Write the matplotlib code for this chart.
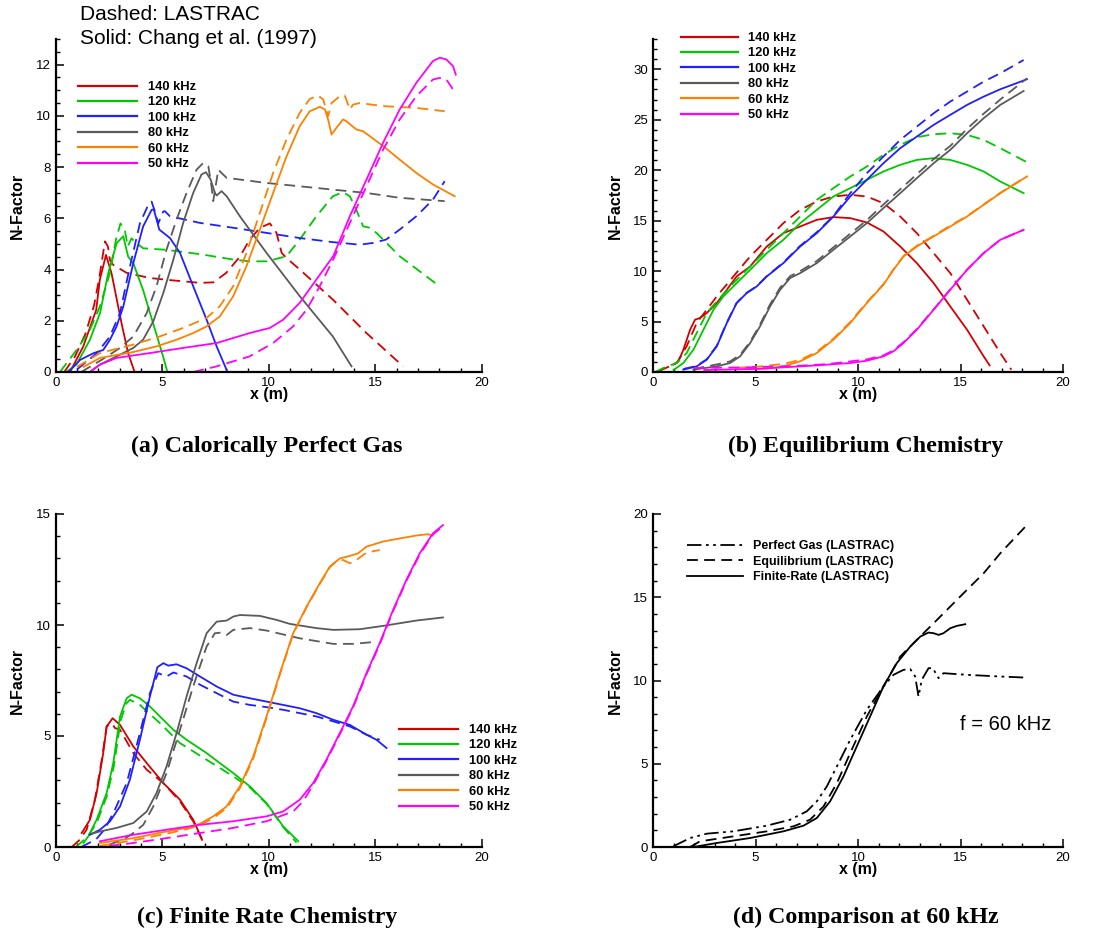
import matplotlib
matplotlib.use("Agg")
import matplotlib.pyplot as plt
from matplotlib.lines import Line2D
from matplotlib.ticker import MultipleLocator

plt.rcParams["font.family"] = ["Liberation Sans", "DejaVu Sans"]

# ---------------------------------------------------------------------------
# N-factor curves, (x [m], N) pairs.
# "lastrac" = LASTRAC (dashed), "chang" = Chang et al. 1997 (solid)
# ---------------------------------------------------------------------------
frequencies = ["140 kHz", "120 kHz", "100 kHz", "80 kHz", "60 kHz", "50 kHz"]
colors = ["#d40000", "#00c800", "#2020ff", "#5a5a5a", "#ff8000", "#ff00ff"]

# (a) Calorically perfect gas
pg_140_chang = [(0.67, 0.0), (1.29, 0.99), (1.9, 2.42), (2.07, 3.6), (2.36, 4.57),
                (2.62, 3.85), (3.09, 1.9), (3.4, 0.73), (3.7, 0.0)]
pg_140_lastrac = [(0.4, 0.0), (0.9, 0.6), (1.4, 1.5), (1.8, 2.6), (2.05, 3.7), (2.31, 5.1),
                  (2.45, 4.9), (2.55, 4.35), (2.7, 4.18), (3.33, 3.87), (4.42, 3.67),
                  (5.2, 3.6), (6.77, 3.48), (7.4, 3.5), (8.0, 3.87), (8.64, 4.5),
                  (9.1, 5.17), (9.58, 5.63), (10.05, 5.8), (10.36, 5.43), (10.6, 4.65),
                  (10.83, 4.45), (11.45, 4.0), (13.0, 2.83), (14.58, 1.52), (16.3, 0.22)]
pg_120_chang = [(0.5, 0.0), (0.98, 0.3), (1.6, 1.25), (2.08, 2.3), (2.46, 3.85),
                (2.86, 5.03), (3.17, 5.3), (3.4, 4.5), (3.64, 4.25), (4.1, 3.2),
                (4.57, 1.9), (5.04, 0.6), (5.24, 0.0)]
pg_120_lastrac = [(0.2, 0.0), (0.98, 0.86), (1.6, 1.64), (2.07, 2.55), (2.54, 3.85),
                  (2.84, 5.22), (3.04, 5.8), (3.24, 5.55), (3.38, 4.9), (3.56, 5.22),
                  (3.7, 5.09), (4.1, 4.83), (5.2, 4.77), (6.77, 4.6), (8.33, 4.39),
                  (9.1, 4.32), (9.9, 4.32), (10.83, 4.52), (11.45, 5.17), (12.23, 6.08),
                  (13.0, 6.86), (13.48, 7.02), (13.8, 6.86), (14.1, 6.34), (14.42, 5.69),
                  (14.73, 5.63), (15.05, 5.43), (16.14, 4.52), (18.0, 3.35)]
pg_100_chang = [(0.6, 0.0), (1.14, 0.47), (1.76, 0.73), (2.23, 0.86), (2.54, 1.25),
                (2.85, 1.77), (3.17, 2.55), (3.64, 4.25), (4.1, 5.68), (4.5, 6.33),
                (4.6, 6.35), (4.75, 5.9), (4.86, 5.56), (5.36, 5.23), (5.83, 4.65),
                (6.45, 3.35), (7.08, 2.04), (7.55, 1.0), (8.06, 0.0)]
pg_100_lastrac = [(1.0, 0.1), (1.92, 0.73), (2.54, 1.38), (3.01, 2.29), (3.48, 4.11),
                  (3.95, 5.8), (4.34, 6.52), (4.5, 6.65), (4.68, 6.2), (4.81, 5.8),
                  (5.04, 6.26), (5.12, 6.28), (5.36, 6.08), (6.77, 5.82), (8.33, 5.63),
                  (9.9, 5.43), (11.45, 5.23), (13.0, 5.07), (14.27, 4.97), (14.9, 5.04),
                  (15.5, 5.17), (16.14, 5.56), (16.92, 6.08), (17.7, 6.73), (18.25, 7.45)]
pg_80_chang = [(1.6, 0.0), (2.08, 0.29), (2.86, 0.61), (3.64, 0.94), (4.1, 1.26),
               (4.58, 1.98), (5.05, 3.09), (5.52, 4.39), (5.98, 5.82), (6.45, 6.99),
               (6.84, 7.71), (7.05, 7.8), (7.27, 7.51), (7.47, 6.99), (7.55, 6.89),
               (7.78, 7.06), (8.02, 6.86), (8.64, 6.08), (9.89, 4.65), (11.45, 2.96),
               (13.0, 1.39), (13.88, 0.22)]
pg_80_lastrac = [(1.2, 0.0), (2.2, 0.5), (3.02, 0.94), (3.64, 1.39), (4.27, 2.3),
                 (4.73, 3.35), (5.2, 4.78), (5.67, 5.95), (6.14, 6.99), (6.61, 7.9),
                 (6.92, 8.16), (7.16, 8.03), (7.31, 7.25), (7.39, 6.67), (7.63, 7.9),
                 (7.78, 7.77), (8.02, 7.58), (9.89, 7.38), (13.0, 7.12), (14.58, 6.99),
                 (16.14, 6.8), (18.25, 6.67)]
pg_60_chang = [(1.3, 0.2), (2.08, 0.55), (3.64, 0.78), (4.73, 1.0), (5.67, 1.26),
               (6.45, 1.52), (7.08, 1.78), (7.7, 2.17), (8.33, 2.96), (8.95, 4.13),
               (9.58, 5.56), (10.2, 6.99), (10.83, 8.42), (11.45, 9.6), (11.92, 10.18),
               (12.39, 10.35), (12.63, 10.25), (12.78, 9.86), (12.94, 9.27), (13.17, 9.53),
               (13.48, 9.86), (13.64, 9.79), (14.1, 9.47), (14.42, 9.4), (15.36, 8.82),
               (16.14, 8.29), (16.92, 7.77), (17.7, 7.32), (18.72, 6.86)]
pg_60_lastrac = [(1.0, 0.2), (2.08, 0.74), (3.64, 1.07), (4.89, 1.39), (5.98, 1.72),
                 (7.08, 2.11), (7.7, 2.57), (8.33, 3.35), (8.95, 4.65), (9.58, 6.21),
                 (10.2, 7.77), (10.83, 9.08), (11.45, 10.12), (11.92, 10.66), (12.31, 10.79),
                 (12.55, 10.64), (12.78, 9.99), (12.94, 10.5), (13.33, 10.77), (13.56, 10.8),
                 (13.8, 10.25), (13.95, 10.44), (14.27, 10.5), (15.36, 10.38),
                 (16.92, 10.31), (18.25, 10.18)]
pg_50_chang = [(1.6, 0.0), (2.08, 0.29), (2.86, 0.55), (4.42, 0.74), (5.98, 0.94),
               (7.55, 1.13), (9.1, 1.52), (10.05, 1.72), (10.67, 2.04), (11.45, 2.7),
               (12.23, 3.61), (13.02, 4.52), (13.8, 6.08), (14.58, 7.51), (15.36, 8.95),
               (16.14, 10.25), (16.92, 11.29), (17.7, 12.14), (18.02, 12.27),
               (18.33, 12.2), (18.64, 11.94), (18.77, 11.61)]
pg_50_lastrac = [(6.45, 0.0), (7.55, 0.22), (9.1, 0.61), (10.2, 1.13), (11.14, 1.78),
                 (11.77, 2.43), (12.39, 3.35), (13.02, 4.39), (13.8, 5.82), (14.58, 7.25),
                 (15.36, 8.68), (16.14, 9.86), (16.92, 10.77), (17.7, 11.42),
                 (18.02, 11.48), (18.33, 11.42), (18.64, 11.03)]

# (b) Equilibrium chemistry
eq_140_chang = [(0.99, 0.73), (1.24, 1.06), (1.48, 2.2), (1.81, 4.19), (2.05, 5.18),
                (2.29, 5.35), (2.62, 5.84), (3.11, 6.83), (3.6, 8.15), (4.08, 9.47),
                (4.74, 10.46), (5.55, 12.44), (6.36, 13.76), (7.18, 14.42), (7.99, 15.08),
                (8.8, 15.35), (9.62, 15.25), (10.43, 14.82), (11.24, 13.93), (12.06, 12.44),
                (12.87, 10.79), (13.69, 8.81), (14.5, 6.5), (15.32, 4.19), (16.13, 1.55),
                (16.42, 0.66)]
eq_140_lastrac = [(0.3, 0.1), (1.16, 0.89), (1.64, 2.54), (2.13, 4.85), (2.62, 6.17),
                  (3.11, 7.49), (3.92, 9.47), (4.74, 11.45), (5.55, 13.1), (6.36, 14.75),
                  (7.18, 16.07), (7.99, 16.9), (8.8, 17.39), (9.62, 17.56), (10.43, 17.39),
                  (11.24, 16.73), (12.06, 15.41), (12.87, 13.76), (13.69, 11.78),
                  (14.5, 9.8), (15.32, 7.16), (16.13, 4.52), (16.94, 1.88), (17.48, 0.23)]
eq_120_chang = [(1.0, 0.2), (1.48, 0.89), (1.97, 2.2), (2.46, 4.19), (2.95, 6.17),
                (3.43, 7.49), (4.08, 8.81), (4.74, 10.13), (5.55, 11.78), (6.36, 13.1),
                (7.18, 14.75), (7.99, 16.07), (8.8, 17.39), (9.62, 18.22), (10.43, 19.04),
                (11.24, 19.87), (12.06, 20.53), (12.87, 21.02), (13.69, 21.19),
                (14.5, 21.02), (15.32, 20.53), (16.13, 19.87), (16.94, 18.88),
                (18.08, 17.72)]
eq_120_lastrac = [(0.1, 0.0), (0.67, 0.56), (1.16, 0.89), (1.64, 1.88), (2.13, 3.86),
                  (2.62, 5.84), (3.11, 7.0), (3.92, 8.81), (4.74, 10.46), (5.55, 12.11),
                  (6.36, 13.76), (7.18, 15.41), (7.99, 17.06), (8.8, 18.22), (9.62, 19.37),
                  (10.43, 20.36), (11.24, 21.52), (12.06, 22.51), (12.87, 23.27),
                  (13.69, 23.56), (14.5, 23.66), (15.32, 23.5), (16.13, 23.0),
                  (16.94, 22.18), (18.24, 20.79)]
eq_100_chang = [(1.48, 0.23), (2.13, 0.56), (2.62, 1.22), (3.11, 2.54), (3.6, 4.85),
                (4.08, 6.83), (4.57, 7.82), (5.06, 8.48), (5.55, 9.47), (6.36, 10.79),
                (7.18, 12.44), (7.99, 13.76), (8.8, 15.41), (9.62, 17.39), (10.43, 19.04),
                (11.24, 20.69), (12.06, 22.18), (12.87, 23.33), (13.69, 24.49),
                (14.5, 25.48), (15.32, 26.47), (16.13, 27.29), (16.94, 28.02),
                (18.24, 29.01)]
eq_100_lastrac = [(1.48, 0.3), (2.13, 0.6), (2.62, 1.25), (3.11, 2.6), (3.6, 4.9),
                  (4.08, 6.85), (4.57, 7.85), (5.06, 8.5), (5.55, 9.5), (6.36, 10.85),
                  (7.18, 12.5), (7.99, 13.85), (8.8, 15.45), (9.62, 17.72), (10.43, 19.7),
                  (11.24, 21.35), (12.06, 23.0), (12.87, 24.32), (13.69, 25.64),
                  (14.5, 26.8), (15.32, 27.79), (16.13, 28.78), (16.94, 29.6),
                  (18.08, 30.92)]
eq_80_chang = [(1.97, 0.23), (3.11, 0.56), (3.76, 0.89), (4.25, 1.55), (4.74, 2.87),
               (5.22, 4.52), (5.71, 6.5), (6.2, 8.15), (6.69, 9.31), (7.18, 9.8),
               (7.99, 10.79), (8.8, 12.11), (9.62, 13.43), (10.43, 14.75), (11.24, 16.24),
               (12.06, 17.72), (12.87, 19.21), (13.69, 20.69), (14.5, 22.01),
               (15.32, 23.66), (16.13, 25.15), (16.94, 26.47), (18.08, 27.85)]
eq_80_lastrac = [(1.97, 0.3), (3.11, 0.75), (3.76, 1.05), (4.25, 1.7), (4.74, 3.0),
                 (5.22, 4.7), (5.71, 6.7), (6.2, 8.35), (6.69, 9.5), (7.18, 10.0),
                 (7.99, 11.0), (8.8, 12.35), (9.62, 13.7), (10.43, 15.05), (11.24, 16.6),
                 (12.06, 18.1), (12.87, 19.6), (13.69, 21.1), (14.5, 22.4),
                 (15.32, 24.1), (16.13, 25.6), (16.94, 27.0), (18.24, 29.1)]
eq_60_chang = [(4.5, 0.3), (5.55, 0.33), (6.36, 0.56), (7.18, 1.06), (7.99, 1.88),
               (8.8, 3.2), (9.62, 4.85), (10.43, 6.83), (11.24, 8.65), (11.73, 10.13),
               (12.22, 11.45), (12.87, 12.44), (13.69, 13.43), (14.5, 14.42),
               (15.32, 15.41), (16.13, 16.57), (16.94, 17.72), (18.24, 19.37)]
eq_60_lastrac = [(4.0, 0.4), (5.2, 0.55), (6.36, 0.8), (7.18, 1.2), (7.99, 2.0),
                 (8.8, 3.3), (9.62, 4.95), (10.43, 6.9), (11.24, 8.7), (11.73, 10.15),
                 (12.22, 11.5), (12.87, 12.5), (13.69, 13.5), (14.5, 14.5),
                 (15.32, 15.45), (16.13, 16.6), (16.94, 17.75), (18.24, 19.4)]
eq_50_chang = [(2.5, 0.2), (5.0, 0.3), (6.36, 0.46), (7.99, 0.66), (9.62, 0.89),
               (10.43, 1.12), (11.24, 1.55), (11.73, 2.05), (12.22, 2.87), (12.87, 4.19),
               (13.69, 6.17), (14.5, 8.15), (15.32, 10.13), (16.13, 11.78),
               (16.94, 13.1), (18.08, 14.09)]
eq_50_lastrac = [(2.0, 0.4), (4.57, 0.46), (7.0, 0.6), (8.5, 0.78), (9.62, 1.05),
                 (10.43, 1.25), (11.24, 1.65), (11.73, 2.15), (12.22, 2.95), (12.87, 4.25),
                 (13.69, 6.2), (14.5, 8.2), (15.32, 10.15), (16.13, 11.8),
                 (16.94, 13.1), (18.08, 14.1)]

# (c) Finite-rate chemistry
fr_140_chang = [(1.22, 0.63), (1.61, 1.23), (1.92, 2.43), (2.23, 4.23), (2.39, 5.43),
                (2.67, 5.8), (3.02, 5.5), (3.64, 4.53), (4.27, 3.78), (5.05, 2.88),
                (5.83, 2.13), (6.45, 1.23), (6.84, 0.4)]
fr_140_lastrac = [(0.75, 0.0), (1.1, 0.3), (1.45, 0.78), (1.84, 2.13), (2.16, 3.93),
                  (2.39, 5.43), (2.63, 5.58), (2.78, 5.36), (3.02, 5.28), (3.64, 4.23),
                  (4.27, 3.48), (5.05, 2.88), (5.83, 2.06), (6.45, 1.16), (7.0, 0.05)]
fr_120_chang = [(1.3, 0.18), (1.53, 0.48), (1.92, 1.23), (2.39, 2.43), (2.7, 3.78),
                (3.02, 5.88), (3.33, 6.7), (3.56, 6.86), (3.95, 6.7), (4.42, 6.33),
                (4.89, 5.88), (5.52, 5.28), (6.14, 4.83), (7.08, 4.23), (7.7, 3.78),
                (8.33, 3.33), (9.11, 2.73), (9.89, 1.98), (10.67, 0.93), (11.38, 0.26)]
fr_120_lastrac = [(0.95, 0.0), (1.3, 0.3), (1.6, 0.6), (1.95, 1.15), (2.4, 2.3),
                  (2.72, 3.6), (3.05, 5.7), (3.3, 6.45), (3.48, 6.63), (3.95, 6.4),
                  (4.89, 5.58), (5.83, 4.68), (7.08, 3.93), (8.33, 3.18), (9.11, 2.68),
                  (9.89, 1.95), (10.67, 0.9), (11.3, 0.2)]
fr_100_chang = [(1.61, 0.55), (2.08, 0.78), (2.55, 1.16), (3.02, 1.83), (3.48, 3.03),
                (3.95, 4.83), (4.42, 6.78), (4.77, 8.1), (5.05, 8.28), (5.28, 8.17),
                (5.67, 8.23), (6.14, 8.05), (6.77, 7.68), (7.55, 7.23), (8.33, 6.86),
                (9.11, 6.7), (9.89, 6.55), (10.67, 6.4), (11.45, 6.25), (12.23, 6.03),
                (13.02, 5.73), (13.8, 5.5), (14.58, 5.06), (15.05, 4.83), (15.52, 4.46)]
fr_100_lastrac = [(1.2, 0.0), (1.9, 0.35), (2.3, 0.8), (2.78, 1.68), (3.33, 2.88),
                  (3.95, 5.13), (4.42, 6.93), (4.81, 7.83), (5.2, 7.68), (5.52, 7.86),
                  (6.14, 7.68), (6.77, 7.31), (7.55, 6.93), (8.33, 6.55), (9.11, 6.4),
                  (9.89, 6.3), (10.67, 6.18), (11.45, 6.03), (12.23, 5.88), (13.02, 5.66),
                  (13.8, 5.43), (14.58, 5.06), (15.2, 4.83)]
fr_80_chang = [(1.69, 0.6), (2.08, 0.7), (2.86, 0.86), (3.64, 1.08), (4.27, 1.6),
               (4.73, 2.43), (5.2, 3.63), (5.67, 5.13), (6.14, 6.78), (6.61, 8.28),
               (7.08, 9.63), (7.55, 10.15), (8.02, 10.2), (8.33, 10.38), (8.64, 10.45),
               (9.58, 10.41), (10.36, 10.23), (10.98, 10.05), (12.23, 9.86), (13.02, 9.78),
               (14.27, 9.81), (15.36, 9.96), (16.14, 10.08), (16.92, 10.2), (18.17, 10.34)]
fr_80_lastrac = [(2.5, 0.1), (3.2, 0.35), (3.64, 0.63), (4.11, 1.0), (4.58, 1.83),
                 (5.2, 3.33), (5.83, 5.28), (6.45, 7.23), (7.08, 9.03), (7.47, 9.63),
                 (7.78, 9.66), (8.02, 9.55), (8.33, 9.78), (9.11, 9.86), (9.89, 9.75),
                 (11.45, 9.4), (13.02, 9.15), (13.95, 9.15), (14.89, 9.23)]
fr_60_chang = [(2.08, 0.18), (3.64, 0.4), (5.2, 0.7), (6.14, 0.86), (6.77, 1.05),
               (7.39, 1.38), (8.02, 1.83), (8.64, 2.73), (9.27, 4.08), (9.89, 5.88),
               (10.52, 7.83), (11.14, 9.63), (11.77, 10.83), (12.39, 11.88), (12.86, 12.63),
               (13.33, 13.0), (13.8, 13.11), (14.19, 13.23), (14.58, 13.53), (15.36, 13.76),
               (16.14, 13.9), (16.92, 14.03), (17.47, 14.09), (17.67, 14.03)]
fr_60_lastrac = [(2.08, 0.05), (3.64, 0.3), (5.2, 0.6), (6.14, 0.8), (6.77, 0.98),
                 (7.39, 1.3), (8.02, 1.75), (8.64, 2.65), (9.27, 4.0), (9.89, 5.8),
                 (10.52, 7.78), (11.14, 9.6), (11.77, 10.8), (12.39, 11.85),
                 (12.86, 12.6), (13.2, 12.9), (13.48, 12.93), (13.8, 12.78),
                 (14.11, 12.93), (14.58, 13.26), (15.2, 13.38)]
fr_50_chang = [(2.08, 0.26), (3.64, 0.55), (5.2, 0.78), (6.77, 1.0), (8.33, 1.16),
               (9.89, 1.38), (10.67, 1.6), (11.45, 2.13), (12.08, 2.88), (12.7, 3.93),
               (13.33, 5.13), (13.95, 6.33), (14.58, 7.83), (15.2, 9.18), (15.83, 10.68),
               (16.45, 12.03), (17.08, 13.23), (17.7, 14.13), (18.17, 14.5)]
fr_50_lastrac = [(2.5, 0.05), (3.64, 0.18), (5.2, 0.4), (6.77, 0.63), (8.33, 0.86),
                 (9.89, 1.16), (11.14, 1.6), (11.61, 2.06), (12.08, 2.8), (12.7, 3.88),
                 (13.33, 5.08), (13.95, 6.28), (14.58, 7.78), (15.2, 9.13), (15.83, 10.63),
                 (16.45, 11.98), (17.08, 13.18), (17.7, 14.08), (18.17, 14.45)]

# (d) 60 kHz, all three gas models (LASTRAC)
cmp_perfect_gas = [(0.99, 0.04), (1.81, 0.54), (2.62, 0.8), (3.92, 0.94), (5.55, 1.28),
                   (6.69, 1.64), (7.5, 2.14), (7.99, 2.74), (8.48, 3.64), (8.97, 4.84),
                   (9.62, 6.44), (10.43, 8.24), (11.24, 9.64), (11.73, 10.34),
                   (12.22, 10.64), (12.55, 10.68), (12.79, 10.24), (12.95, 9.04),
                   (13.11, 10.04), (13.44, 10.74), (13.65, 10.74), (13.93, 10.14),
                   (14.17, 10.44), (15.31, 10.34), (16.94, 10.24), (18.08, 10.18)]
cmp_equilibrium = [(1.81, 0.0), (2.29, 0.34), (3.92, 0.64), (5.55, 0.94), (6.85, 1.24),
                   (7.66, 1.64), (8.32, 2.44), (8.97, 3.84), (9.62, 5.64), (10.43, 7.84),
                   (11.24, 9.64), (12.06, 11.44), (12.87, 12.44), (13.69, 13.44),
                   (14.5, 14.44), (15.31, 15.44), (16.13, 16.44), (16.94, 17.64),
                   (18.24, 19.34)]
cmp_finite_rate = [(1.97, 0.0), (3.11, 0.24), (4.74, 0.54), (6.36, 0.94), (7.34, 1.28),
                   (7.99, 1.74), (8.64, 2.74), (9.29, 4.24), (9.94, 6.04), (10.59, 7.84),
                   (11.24, 9.64), (11.89, 11.04), (12.55, 12.04), (13.04, 12.64),
                   (13.44, 12.88), (13.69, 12.84), (13.93, 12.74), (14.17, 12.84),
                   (14.5, 13.14), (14.82, 13.28), (15.23, 13.38)]
cmp_labels = ["Perfect Gas (LASTRAC)", "Equilibrium (LASTRAC)", "Finite-Rate (LASTRAC)"]

captions = ["(a) Calorically Perfect Gas", "(b) Equilibrium Chemistry",
            "(c) Finite Rate Chemistry", "(d) Comparison at 60 kHz"]

panel_a = [(pg_140_chang, pg_140_lastrac), (pg_120_chang, pg_120_lastrac),
           (pg_100_chang, pg_100_lastrac), (pg_80_chang, pg_80_lastrac),
           (pg_60_chang, pg_60_lastrac), (pg_50_chang, pg_50_lastrac)]
panel_b = [(eq_140_chang, eq_140_lastrac), (eq_120_chang, eq_120_lastrac),
           (eq_100_chang, eq_100_lastrac), (eq_80_chang, eq_80_lastrac),
           (eq_60_chang, eq_60_lastrac), (eq_50_chang, eq_50_lastrac)]
panel_c = [(fr_140_chang, fr_140_lastrac), (fr_120_chang, fr_120_lastrac),
           (fr_100_chang, fr_100_lastrac), (fr_80_chang, fr_80_lastrac),
           (fr_60_chang, fr_60_lastrac), (fr_50_chang, fr_50_lastrac)]

# ---------------------------------------------------------------------------
W, H = 1094, 939
fig = plt.figure(figsize=(W / 100, H / 100), dpi=100)


def px_axes(left, right, bottom, top):
    return fig.add_axes([left / W, 1 - bottom / H, (right - left) / W, (bottom - top) / H])


LW = 1.3
DASH = (6, 3.5)


def style_axes(ax, ymax, ymajor, yminor):
    ax.set_xlim(0, 20)
    ax.set_ylim(0, ymax)
    for s in ("top", "right"):
        ax.spines[s].set_visible(False)
    for s in ("left", "bottom"):
        ax.spines[s].set_linewidth(1.6)
    ax.xaxis.set_major_locator(MultipleLocator(5))
    ax.xaxis.set_minor_locator(MultipleLocator(1))
    ax.yaxis.set_major_locator(MultipleLocator(ymajor))
    ax.yaxis.set_minor_locator(MultipleLocator(yminor))
    ax.tick_params(which="major", direction="in", length=6, width=1.1,
                   labelsize=9.5, pad=3.5)
    ax.tick_params(which="minor", direction="in", length=3, width=1.0)
    ax.set_xlabel("x (m)", fontsize=11.5, fontweight="bold")
    ax.set_ylabel("N-Factor", fontsize=11.5, fontweight="bold")
    ax.xaxis.set_label_coords(0.5, -0.045)
    ax.yaxis.set_label_coords(-0.073, 0.5)
    ax.set_facecolor("none")


def draw_freq_panel(ax, pairs):
    for (solid, dashed), c in zip(pairs, colors):
        ax.plot([p[0] for p in dashed], [p[1] for p in dashed], color=c, lw=LW,
                dashes=DASH, clip_on=False)
        ax.plot([p[0] for p in solid], [p[1] for p in solid], color=c, lw=LW,
                clip_on=False)


def freq_legend(ax, x0, y0, hl):
    handles = [Line2D([], [], color=c, lw=1.6) for c in colors]
    leg = ax.legend(handles, frequencies, loc="upper left",
                    bbox_to_anchor=(x0 / W, 1 - y0 / H), bbox_transform=fig.transFigure,
                    frameon=False, borderpad=0, borderaxespad=0, handlelength=hl,
                    handletextpad=0.8, labelspacing=0.26,
                    prop={"size": 9.3, "weight": "bold"})
    return leg


ax_a = px_axes(55.7, 482, 372, 39)
style_axes(ax_a, 13, 2, 0.5)
draw_freq_panel(ax_a, panel_a)
freq_legend(ax_a, 78, 81, 4.6)

ax_b = px_axes(653, 1063, 372, 39)
style_axes(ax_b, 33, 5, 1)
draw_freq_panel(ax_b, panel_b)
freq_legend(ax_b, 681, 32, 4.4)

ax_c = px_axes(55.7, 482, 847, 514)
style_axes(ax_c, 15, 5, 1)
draw_freq_panel(ax_c, panel_c)
freq_legend(ax_c, 399, 724, 4.6)

ax_d = px_axes(653, 1063, 847, 514)
style_axes(ax_d, 20, 5, 1)
cmp_styles = [dict(dashes=(8, 2.5, 1.5, 2.5, 1.5, 2.5)), dict(dashes=(6, 3.5)), dict()]
for series, st in zip([cmp_perfect_gas, cmp_equilibrium, cmp_finite_rate], cmp_styles):
    ax_d.plot([p[0] for p in series], [p[1] for p in series], color="black", lw=LW,
              clip_on=False, **st)
cmp_handles = [Line2D([], [], color="black", lw=1.3, **st) for st in cmp_styles]
ax_d.legend(cmp_handles, cmp_labels, loc="upper left",
            bbox_to_anchor=(687 / W, 1 - 540 / H), bbox_transform=fig.transFigure,
            frameon=False, borderpad=0, borderaxespad=0, handlelength=4.5,
            handletextpad=0.8, labelspacing=0.28, prop={"size": 9, "weight": "bold"})
fig.text(960 / W, 1 - 725 / H, "f = 60 kHz", fontsize=14.5, va="center", ha="left")

# Panel (a) annotation
fig.text(80 / W, 1 - 15 / H, "Dashed: LASTRAC", fontsize=15, va="center", ha="left")
fig.text(80 / W, 1 - 38 / H, "Solid: Chang et al. (1997)", fontsize=15, va="center",
         ha="left")

# Sub-captions
cap_pos = [(267, 446), (866, 446), (267, 917), (866, 917)]
for (cx, cy), txt in zip(cap_pos, captions):
    fig.text(cx / W, 1 - cy / H, txt, fontsize=17.2, fontweight="bold",
             family=["Liberation Serif", "DejaVu Serif"], ha="center", va="center")

fig.savefig("out.png", dpi=100)
